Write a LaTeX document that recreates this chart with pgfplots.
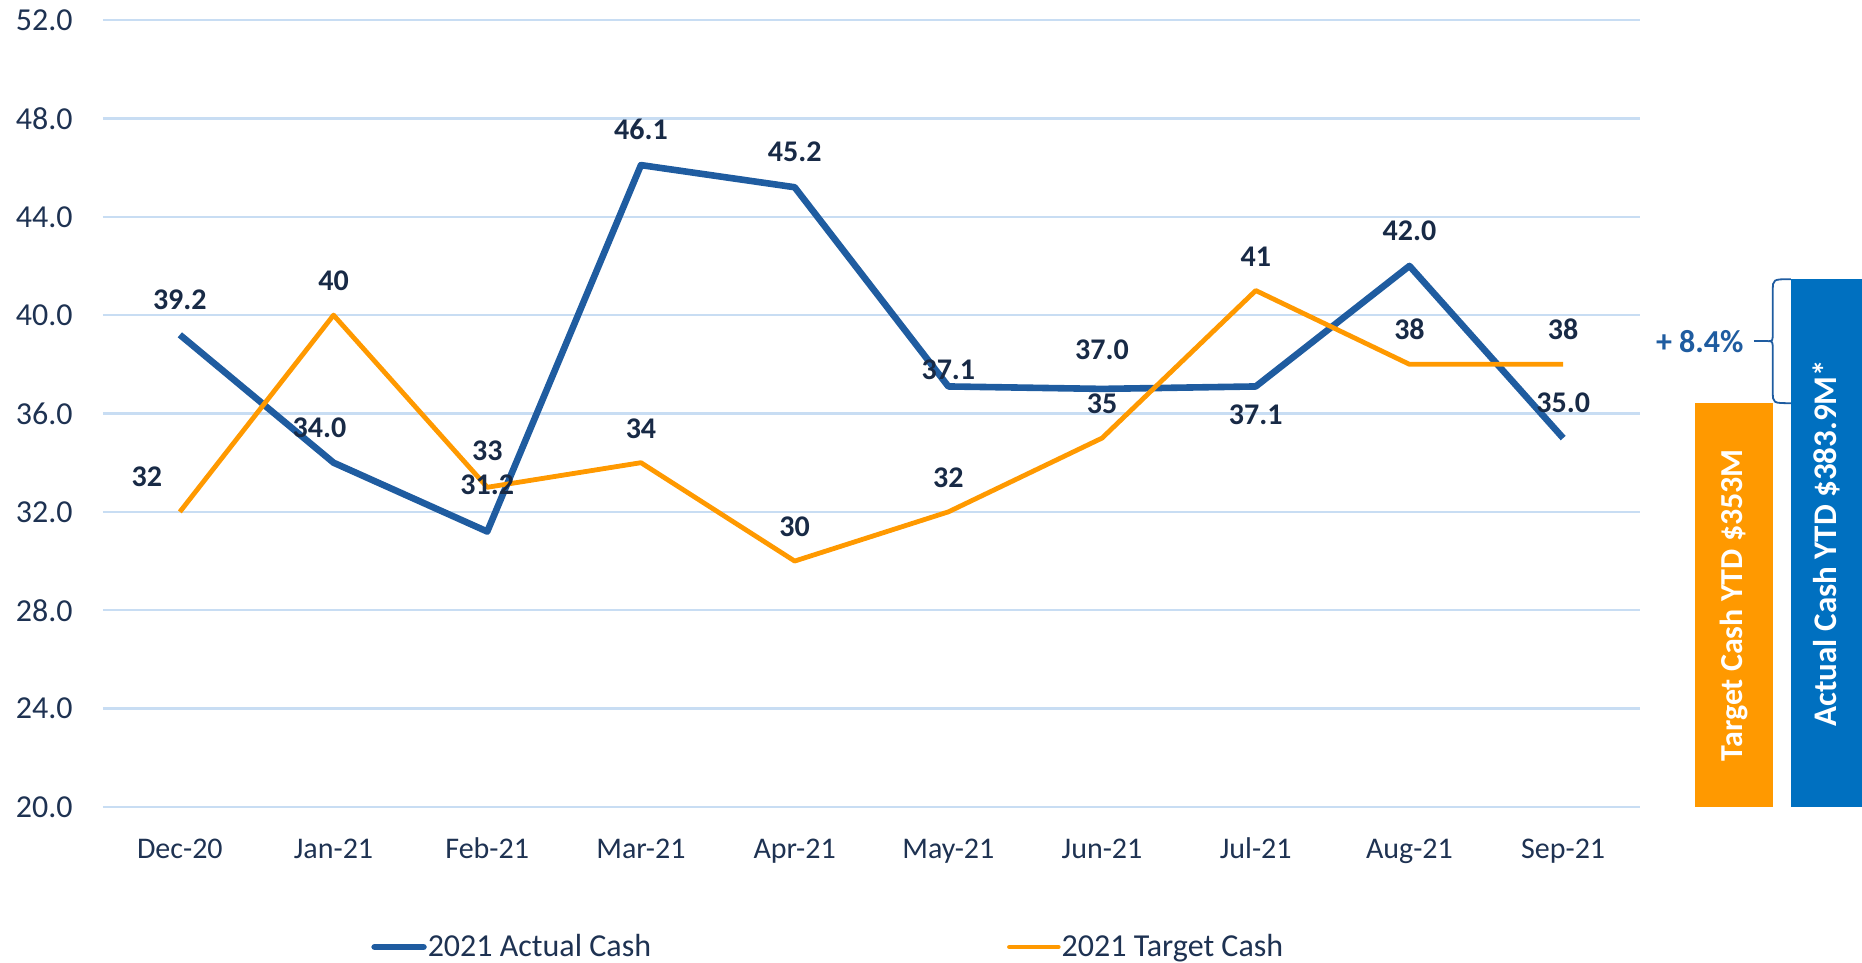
\documentclass[border=0pt]{standalone}
\usepackage{fontspec}
\setmainfont{Carlito}
\usepackage{pgfplots}
\usepackage{pgfplotstable}
\pgfplotsset{compat=1.18}

\definecolor{actualline}{RGB}{31,92,160}
\definecolor{targetline}{RGB}{255,153,0}
\definecolor{actualbar}{RGB}{0,112,192}
\definecolor{gridblue}{RGB}{200,221,243}
\definecolor{navy}{RGB}{30,50,82}
\definecolor{labnavy}{RGB}{24,42,70}

% x, value, label text, label shift (pt)
\pgfplotstableread{
x y lab dx dy
0 39.2 39.2 0 11
1 34.0 34.0 -7 11
2 31.2 31.2 0 17
3 46.1 46.1 0 11
4 45.2 45.2 0 11
5 37.1 37.1 0 1.5
6 37.0 37.0 0 13
7 37.1 37.1 0 -21
8 42.0 42.0 0 11
9 35.0 35.0 0 11
}\actualdata

\pgfplotstableread{
x y lab dx dy
0 32 32 -16.5 11.5
1 40 40 0 11
2 33 33 0 12
3 34 34 0 11
4 30 30 0 11
5 32 32 0 11
6 35 35 0 11
7 41 41 0 11
8 38 38 0 11
9 38 38 0 11
}\targetdata

\begin{document}
\begin{tikzpicture}
\begin{axis}[
  scale only axis,
  width=768.5pt, height=393.5pt,
  xmin=-0.5, xmax=9.5, ymin=20, ymax=52,
  xtick={0,...,9},
  xticklabels={Dec-20,Jan-21,Feb-21,Mar-21,Apr-21,May-21,Jun-21,Jul-21,Aug-21,Sep-21},
  ytick={20,24,...,52},
  axis line style={draw=none},
  major tick length=0pt,
  ymajorgrids=true,
  grid style={gridblue, line width=1.2pt},
  /pgf/number format/assume math mode=true,
  yticklabel style={anchor=east, inner sep=0pt, xshift=-15pt,
    font=\fontsize{16}{19}\selectfont, text=navy,
    /pgf/number format/fixed, /pgf/number format/fixed zerofill,
    /pgf/number format/precision=1},
  xticklabel style={anchor=base, inner sep=0pt, yshift=-25.5pt,
    font=\fontsize{15}{18}\selectfont, text=navy},
  clip=false,
  legend columns=2,
  legend style={draw=none, fill=none, inner sep=0pt, outer sep=0pt,
    at={(0.1746,-0.1779)}, anchor=west,
    font=\fontsize{16}{19}\selectfont,
    nodes={inner sep=0pt, text=navy},
    /tikz/every odd column/.append style={column sep=0.5pt},
    /tikz/every even column/.append style={column sep=178pt}},
  legend image code/.code={\draw[line cap=round] (0pt,0pt) -- (24.4pt,0pt);},
]
\addplot[actualline, line width=3.3pt, line join=round,
  nodes near coords, point meta=explicit symbolic,
  visualization depends on={\thisrow{dx}\as\dx},
  visualization depends on={\thisrow{dy}\as\dy},
  nodes near coords style={anchor=south, inner sep=0pt, xshift=\dx pt, yshift=\dy pt,
    font=\fontsize{15}{18}\selectfont\bfseries, text=labnavy}]
  table[x=x, y=y, meta=lab] {\actualdata};
\addlegendentry{2021 Actual Cash}

\addplot[targetline, line width=2.4pt, line join=round,
  nodes near coords, point meta=explicit symbolic,
  visualization depends on={\thisrow{dx}\as\dx},
  visualization depends on={\thisrow{dy}\as\dy},
  nodes near coords style={anchor=south, inner sep=0pt, xshift=\dx pt, yshift=\dy pt,
    font=\fontsize{15}{18}\selectfont\bfseries, text=labnavy}]
  table[x=x, y=y, meta=lab] {\targetdata};
\addlegendentry{2021 Target Cash}

% YTD totals at the right
\addplot[fill=targetline, draw=none, forget plot]
  coordinates {(9.857,20) (10.364,20) (10.364,36.42) (9.857,36.42)};
\addplot[fill=actualbar, draw=none, forget plot]
  coordinates {(10.482,20) (10.95,20) (10.95,41.46) (10.482,41.46)};
\node[rotate=90, text=white, font=\fontsize{16}{19}\selectfont\bfseries]
  at (axis cs:10.11,28.21) {Target Cash YTD \$353M};
\node[rotate=90, text=white, font=\fontsize{16.5}{19}\selectfont\bfseries]
  at (axis cs:10.716,30.73) {Actual Cash YTD \$383.9M*};

\draw[actualline, line width=0.9pt]
  (axis cs:10.482,41.46) .. controls (axis cs:10.364,41.46) .. (axis cs:10.364,41.0)
  -- (axis cs:10.364,39.35) .. controls (axis cs:10.364,38.94) .. (axis cs:10.332,38.94)
  .. controls (axis cs:10.364,38.94) .. (axis cs:10.364,38.53)
  -- (axis cs:10.364,36.88) .. controls (axis cs:10.364,36.42) .. (axis cs:10.482,36.42);
\draw[actualline, line width=0.9pt] (axis cs:10.241,38.94) -- (axis cs:10.332,38.94);
\node[anchor=east, inner sep=0pt, text=actualline, font=\fontsize{16}{19}\selectfont\bfseries]
  at (axis cs:10.176,38.94) {+ 8.4\%};
\end{axis}
\pgfresetboundingbox
\path (-51.5pt,-78pt) rectangle (879.5pt,403.5pt);
\end{tikzpicture}
\end{document}
